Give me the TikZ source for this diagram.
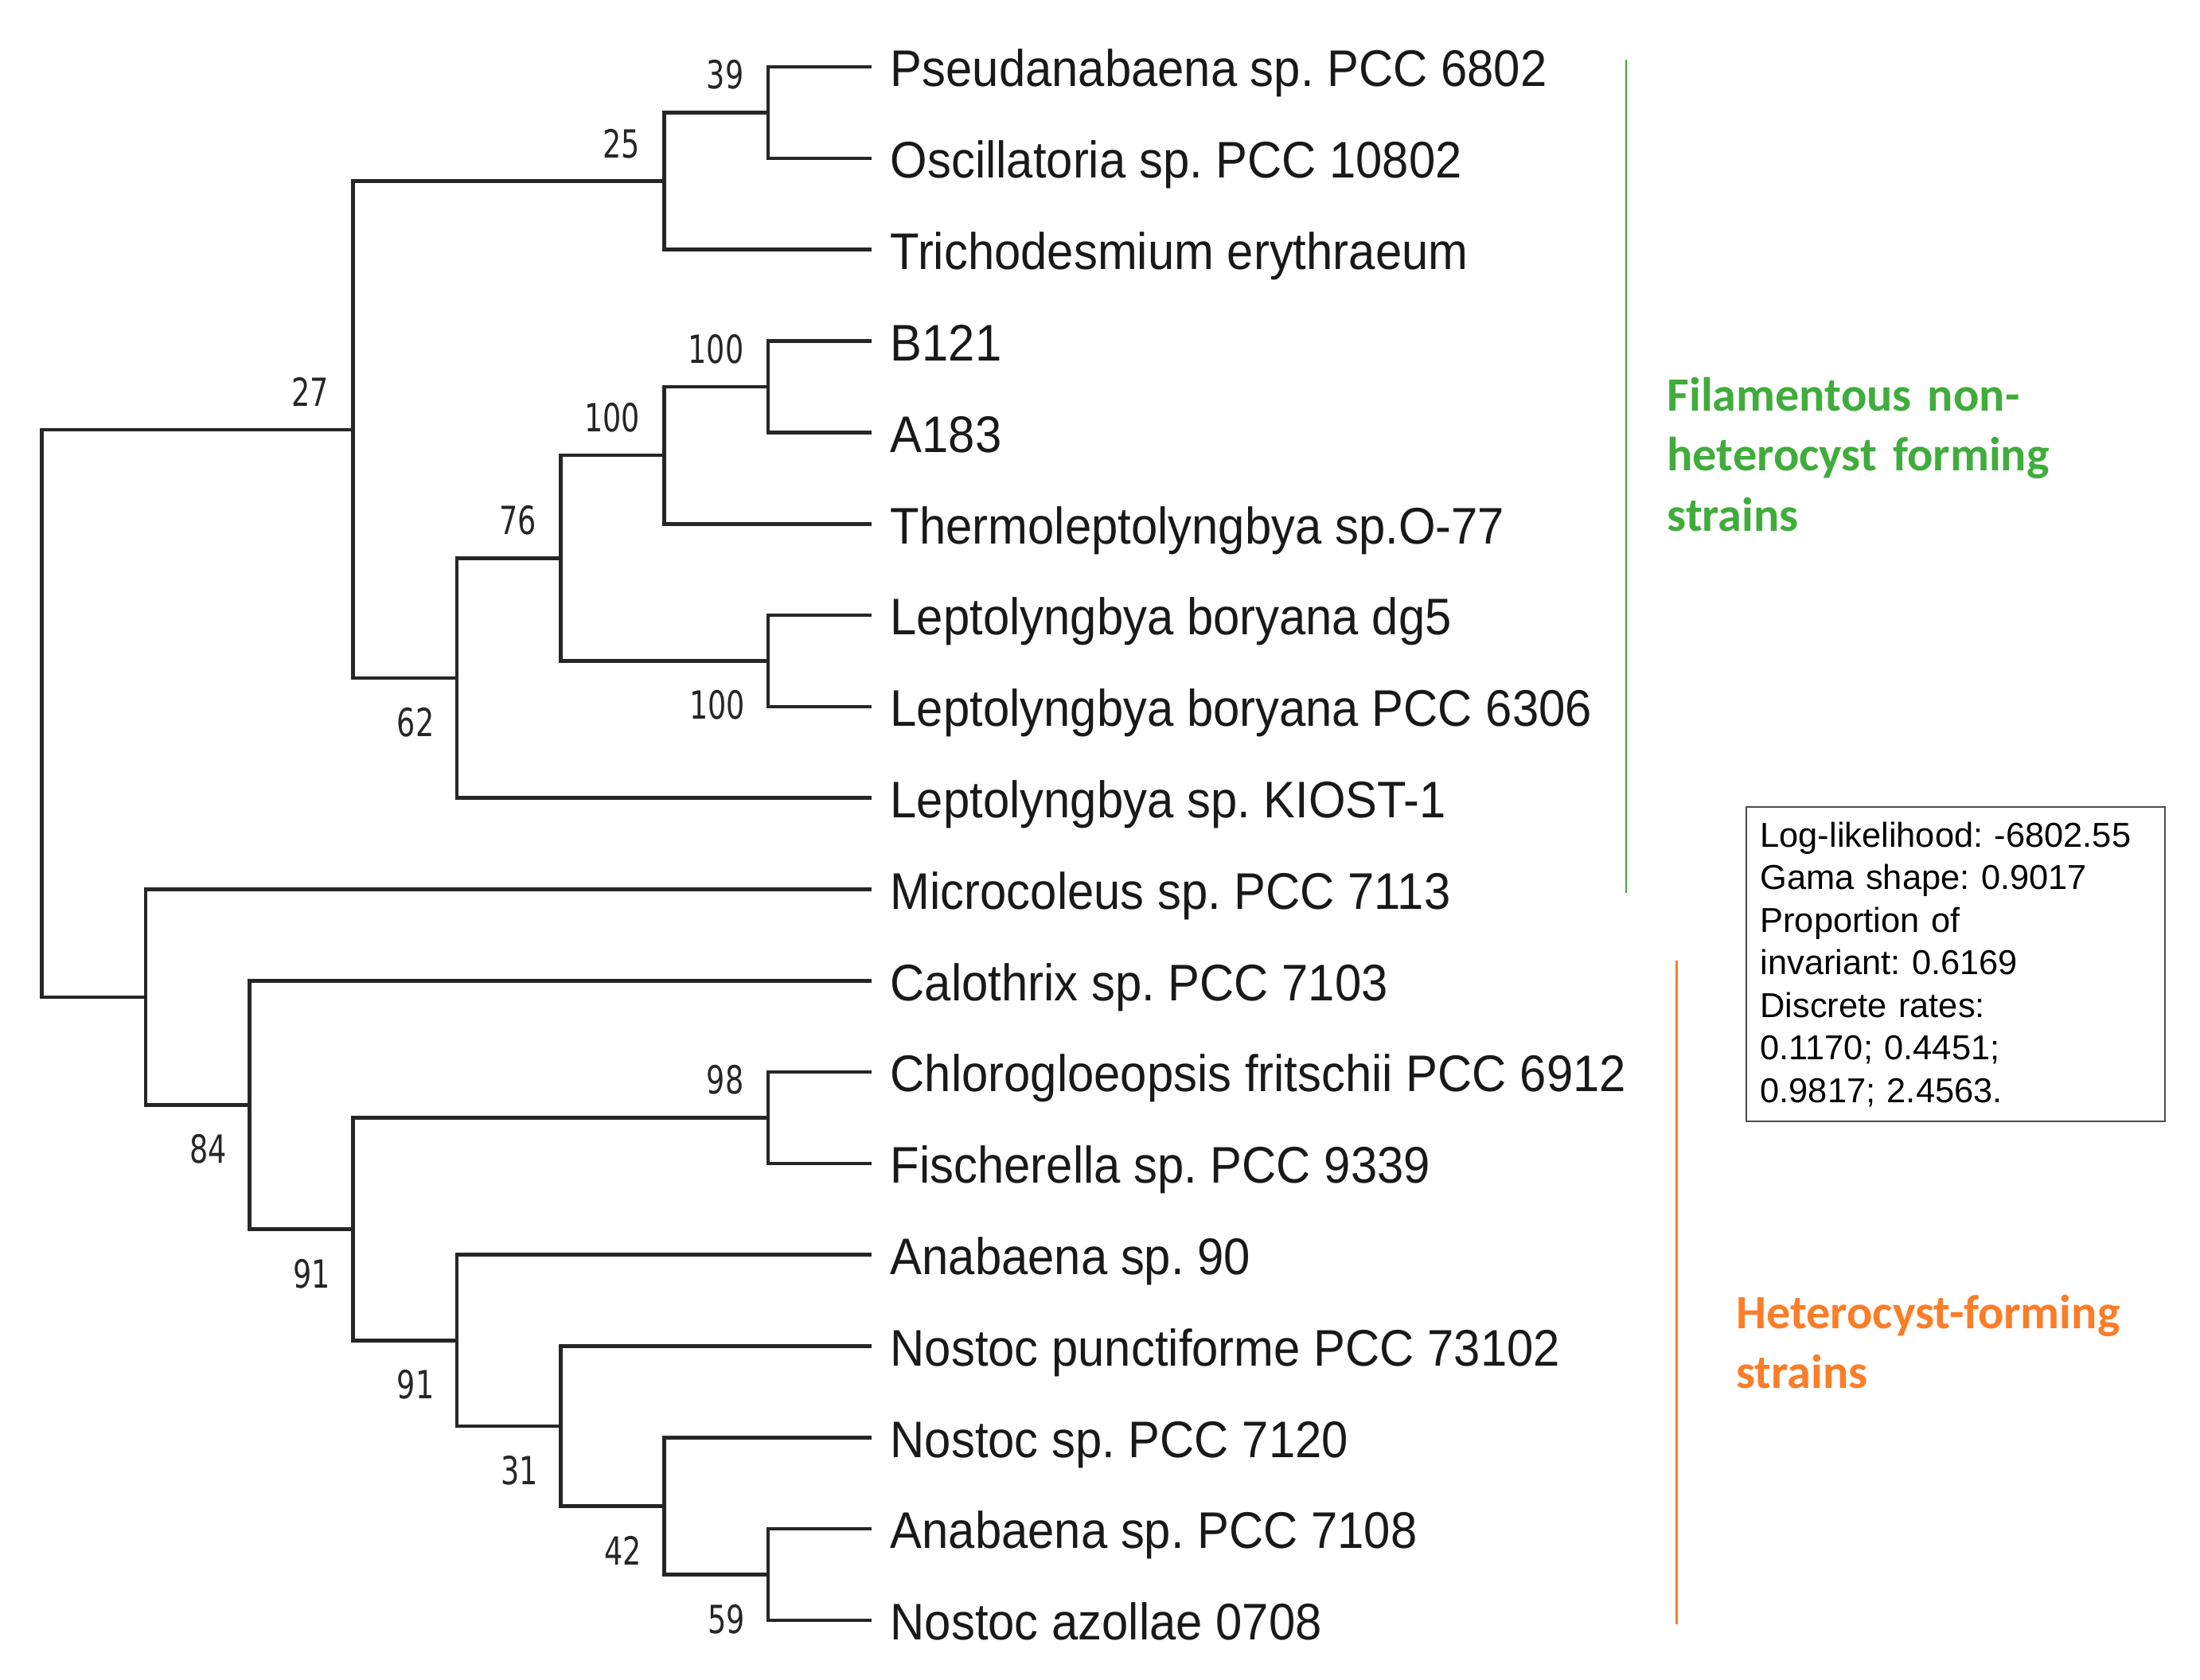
\documentclass[tikz,border=0pt]{standalone}
\usepackage{fontspec}
\usetikzlibrary{positioning}

\newfontfamily\leaffont[FakeStretch=0.925]{Liberation Sans}
\newfontfamily\bsfont[FakeStretch=0.75]{DejaVu Sans}
\newfontfamily\groupfont{Carlito}
\newfontfamily\statfont{Liberation Sans}
\definecolor{filgreen}{RGB}{64,172,60}
\definecolor{hetorange}{RGB}{250,125,40}
\frenchspacing

\begin{document}
\begin{tikzpicture}[x=1pt, y=-1pt,
    branch/.style={draw=black!85, line width=2.6pt},
    leaf/.style={anchor=base west, inner sep=0pt, xshift=13pt, yshift=-14pt, text=black!90, font=\leaffont\fontsize{36.5}{40}\selectfont},
    bsnum/.style={anchor=base east, inner sep=0pt, text=black!85, font=\bsfont\fontsize{27.5}{30}\selectfont},
    bsup/.style={bsnum, xshift=-17pt, yshift=16.7pt},
    bsdn/.style={bsnum, xshift=-16pt, yshift=-41.5pt},
    grouplabel/.style={anchor=base west, inner sep=0pt, text width=330pt, align=left, font=\groupfont\bfseries\fontsize{34}{42.5}\selectfont},
    statbox/.style={draw=black!70, line width=1.2pt, anchor=north west, inner xsep=10pt, inner ysep=0pt, text width=277pt, minimum height=223pt, align=left, font=\statfont\fontsize{24.5}{30.2}\selectfont}]
    \useasboundingbox (0,0) rectangle (1560,1190.9);

    % leaves
    \foreach \i/\taxon in {1/Pseudanabaena sp. PCC 6802, 2/Oscillatoria sp. PCC 10802, 3/Trichodesmium erythraeum,
        4/B121, 5/A183, 6/Thermoleptolyngbya sp.O-77, 7/Leptolyngbya boryana dg5, 8/Leptolyngbya boryana PCC 6306,
        9/Leptolyngbya sp. KIOST-1, 10/Microcoleus sp. PCC 7113, 11/Calothrix sp. PCC 7103,
        12/Chlorogloeopsis fritschii PCC 6912, 13/Fischerella sp. PCC 9339, 14/Anabaena sp. 90,
        15/Nostoc punctiforme PCC 73102, 16/Nostoc sp. PCC 7120, 17/Anabaena sp. PCC 7108, 18/Nostoc azollae 0708} {
        \coordinate (t\i) at (618.2, {47.5+64.8*(\i-1)});
        \node (leaf\i) [leaf] at (t\i) {\taxon};
    }

    % internal nodes
    \coordinate (root) at (29.7, 505.9);
    \coordinate (n27) at (250.4, 304.7);
    \coordinate (n25) at (471.1, 128.5);
    \coordinate (n39) at (544.6, 79.9);
    \coordinate (n62) at (324.0, 480.85);
    \coordinate (n76) at (397.5, 395.8);
    \coordinate (nT) at (471.1, 322.9);
    \coordinate (nB) at (544.6, 274.3);
    \coordinate (nL) at (544.6, 468.7);
    \coordinate (nM) at (103.3, 707.15);
    \coordinate (n84) at (176.8, 783.6);
    \coordinate (n91a) at (250.4, 871.7);
    \coordinate (n98) at (544.6, 792.7);
    \coordinate (n91b) at (324.0, 950.65);
    \coordinate (n31) at (397.5, 1011.4);
    \coordinate (n42) at (471.1, 1068.1);
    \coordinate (n59) at (544.6, 1116.7);

    \foreach \p/\c in {root/n27, root/nM, n27/n25, n27/n62, n25/n39, n25/t3, n39/t1, n39/t2,
        n62/n76, n62/t9, n76/nT, n76/nL, nT/nB, nT/t6, nB/t4, nB/t5, nL/t7, nL/t8,
        nM/t10, nM/n84, n84/t11, n84/n91a, n91a/n98, n91a/n91b, n98/t12, n98/t13,
        n91b/t14, n91b/n31, n31/t15, n31/n42, n42/t16, n42/n59, n59/t17, n59/t18}
        \draw [branch] (\p) |- (\c);

    % bootstrap values
    \node (b39) [bsup] at (n39) {39};
    \node (b25) [bsup] at (n25) {25};
    \node (b27) [bsup] at (n27) {27};
    \node (bB) [bsup] at (nB) {100};
    \node (bT) [bsup] at (nT) {100};
    \node (b76) [bsup] at (n76) {76};
    \node (b62) [bsdn] at (n62) {62};
    \node (bL) [bsdn] at (nL) {100};
    \node (b84) [bsdn] at (n84) {84};
    \node (b91a) [bsdn] at (n91a) {91};
    \node (b98) [bsup] at (n98) {98};
    \node (b91b) [bsdn] at (n91b) {91};
    \node (b31) [bsdn] at (n31) {31};
    \node (b42) [bsdn] at (n42) {42};
    \node (b59) [bsdn] at (n59) {59};

    % groups
    \coordinate (gtop) at (1153, 42.5);
    \coordinate (gbot) at (1153, 633);
    \draw [filgreen, line width=1.4pt] (gtop) -- (gbot);
    \node (filgrp) [grouplabel, text=filgreen] at (1182, 291.5) {Filamentous non-\\heterocyst forming\\strains};
    \coordinate (htop) at (1189, 681);
    \coordinate (hbot) at (1189, 1152);
    \draw [hetorange, line width=1.4pt] (htop) -- (hbot);
    \node (hetgrp) [grouplabel, text=hetorange] at (1231, 942) {Heterocyst-forming\\strains};

    % model parameters
    \node (stats) [statbox] at (1237.6, 571.8) {Log-likelihood: -6802.55\\Gama shape: 0.9017\\Proportion of\\invariant: 0.6169\\Discrete rates:\\0.1170; 0.4451;\\0.9817; 2.4563.};
\end{tikzpicture}
\end{document}
